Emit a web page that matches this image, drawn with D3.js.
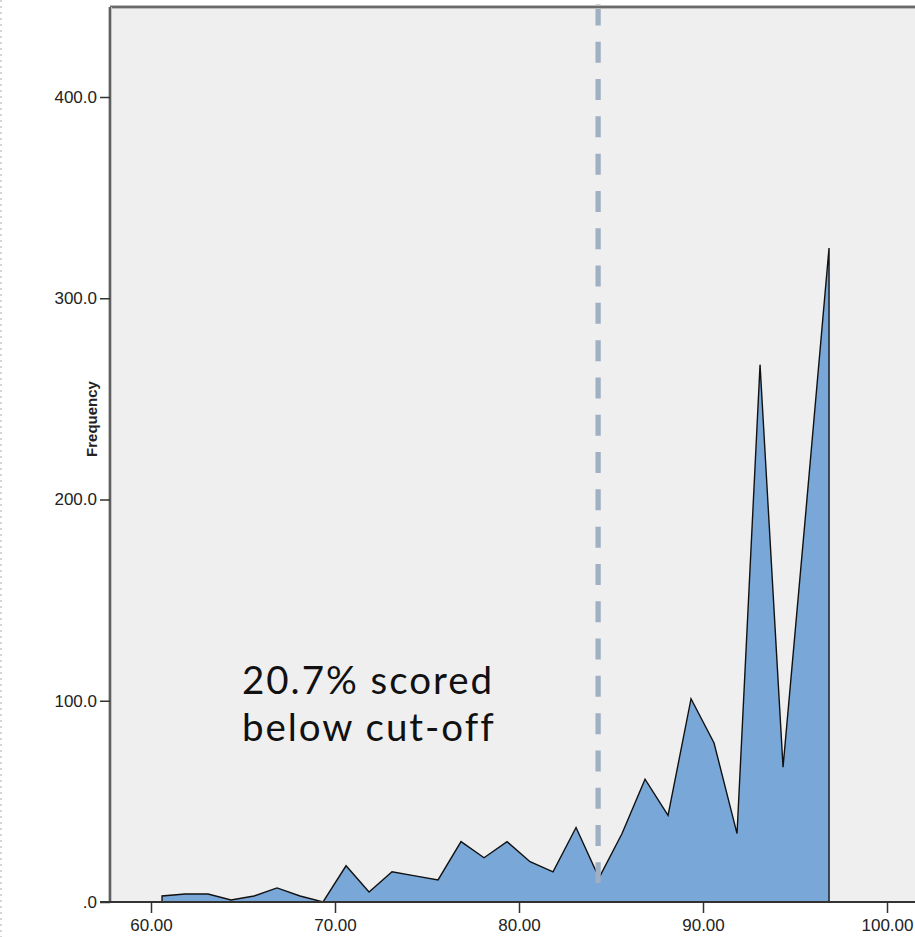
<!DOCTYPE html>
<html>
<head>
<meta charset="utf-8">
<script src="https://cdn.jsdelivr.net/npm/d3@7"></script>
<style>
html,body{margin:0;padding:0;background:#fff;}
svg{display:block;}
</style>
</head>
<body>
<svg id="chart" width="915" height="937"></svg>
<script>
// ---- data ----
const scores = [60.6, 61.85, 63.1, 64.35, 65.6, 66.85, 68.1, 69.35, 70.6, 71.85,
                73.1, 74.35, 75.6, 76.85, 78.1, 79.35, 80.6, 81.85, 83.1, 84.35,
                85.6, 86.85, 88.1, 89.35, 90.6, 91.85, 93.1, 94.35, 95.6, 96.85];
const frequency = [3, 4, 4, 1, 3, 7, 3, 0, 18, 5,
                   15, 13, 11, 30, 22, 30, 20, 15, 37, 12,
                   34, 61, 43, 101, 79, 34, 267, 67, 195, 325];
const xTicks = [60, 70, 80, 90, 100];
const xTickLabels = ["60.00", "70.00", "80.00", "90.00", "100.00"];
const yTicks = [0, 100, 200, 300, 400];
const yTickLabels = [".0", "100.0", "200.0", "300.0", "400.0"];
const cutoff = 84.3;
const annotationLines = ["20.7% scored", "below cut-off"];
const yLabel = "Frequency";

// ---- layout ----
const svg = d3.select("#chart");
const W = 915, H = 937;
const frameLeft = 110, frameTop = 7, axisY = 902;
const tickFont = "'Liberation Sans', Arial, sans-serif";

const x = d3.scaleLinear().domain([60, 100]).range([151, 887]);
const y = d3.scaleLinear().domain([0, 400]).range([axisY, 97]);

// left dotted page edge
svg.append("line").attr("x1", 1).attr("x2", 1).attr("y1", 0).attr("y2", H)
  .attr("stroke", "#c8c8c8").attr("stroke-width", 1.5).attr("stroke-dasharray", "2,4");

// plot background
svg.append("rect").attr("x", frameLeft).attr("y", frameTop)
  .attr("width", W - frameLeft + 10).attr("height", axisY - frameTop)
  .attr("fill", "#efefef");

// area
const pts = scores.map((s, i) => [s, frequency[i]]);
const poly = [[scores[0], 0], ...pts, [scores[scores.length - 1], 0]];
const line = d3.line().x(d => x(d[0])).y(d => y(d[1]));
svg.append("path").attr("d", line(poly) + "Z")
  .attr("fill", "#79a8d8").attr("stroke", "none");
svg.append("path").attr("d", line(poly))
  .attr("fill", "none").attr("stroke", "#111").attr("stroke-width", 1.4)
  .attr("stroke-linejoin", "miter");

// cutoff dashed line
svg.append("line")
  .attr("x1", x(cutoff)).attr("x2", x(cutoff))
  .attr("y1", y(446)).attr("y2", y(9.5))
  .attr("stroke", "#a0b0c2").attr("stroke-width", 5.3)
  .attr("stroke-dasharray", "21,16.3");

// frame (top & left)
svg.append("line").attr("x1", frameLeft).attr("x2", W + 5).attr("y1", frameTop).attr("y2", frameTop)
  .attr("stroke", "#bbb").attr("stroke-width", 4);
svg.append("line").attr("x1", frameLeft).attr("x2", W + 5).attr("y1", frameTop).attr("y2", frameTop)
  .attr("stroke", "#6a6a6a").attr("stroke-width", 1.8);
svg.append("line").attr("x1", frameLeft).attr("x2", frameLeft).attr("y1", frameTop).attr("y2", axisY)
  .attr("stroke", "#c4c4c4").attr("stroke-width", 4);
svg.append("line").attr("x1", frameLeft).attr("x2", frameLeft).attr("y1", frameTop).attr("y2", axisY)
  .attr("stroke", "#555").attr("stroke-width", 1.8);

// y axis
const yAxis = d3.axisLeft(y).tickValues(yTicks)
  .tickFormat((d, i) => yTickLabels[i]).tickSize(10).tickSizeOuter(0).tickPadding(3);
const gy = svg.append("g").attr("transform", `translate(${frameLeft},0)`).call(yAxis);
gy.select(".domain").remove();
gy.attr("font-size", null).attr("font-family", null);
gy.selectAll(".tick line").attr("stroke", "#333").attr("stroke-width", 1.5);
gy.selectAll(".tick text").attr("fill", "#222")
  .style("font-family", tickFont).style("font-size", "17px");

// x axis
const xAxis = d3.axisBottom(x).tickValues(xTicks)
  .tickFormat((d, i) => xTickLabels[i]).tickSize(11).tickSizeOuter(0).tickPadding(6);
const gx = svg.append("g").attr("transform", `translate(0,${axisY})`).call(xAxis);
gx.select(".domain").remove();
gx.attr("font-size", null).attr("font-family", null);
gx.selectAll(".tick line").attr("stroke", "#333").attr("stroke-width", 1.5);
gx.selectAll(".tick text").attr("fill", "#222")
  .style("font-family", tickFont).style("font-size", "17px");
svg.append("line").attr("x1", 100).attr("x2", W + 5).attr("y1", axisY).attr("y2", axisY)
  .attr("stroke", "#333").attr("stroke-width", 1.8);

// y label
svg.append("text")
  .attr("transform", `translate(97,${y(240)}) rotate(-90)`)
  .attr("text-anchor", "middle")
  .style("font-family", tickFont)
  .style("font-size", "15px").style("font-weight", "bold").attr("fill", "#222")
  .text(yLabel);

// annotation (two separate lines)
const annFont = "Lato, 'Open Sans', sans-serif";
const annTexts = annotationLines.map((t, i) =>
  svg.append("text").attr("x", 242).attr("y", 694 + i * 47)
    .style("font-family", annFont).style("font-size", "38.5px")
    .attr("fill", "#111").text(t));
const w0 = annTexts[0].node().getComputedTextLength();
const ls = Math.max(0, (252 - w0) / annotationLines[0].length);
annTexts.forEach(t => t.style("letter-spacing", ls.toFixed(2) + "px"));
</script>
</body>
</html>
